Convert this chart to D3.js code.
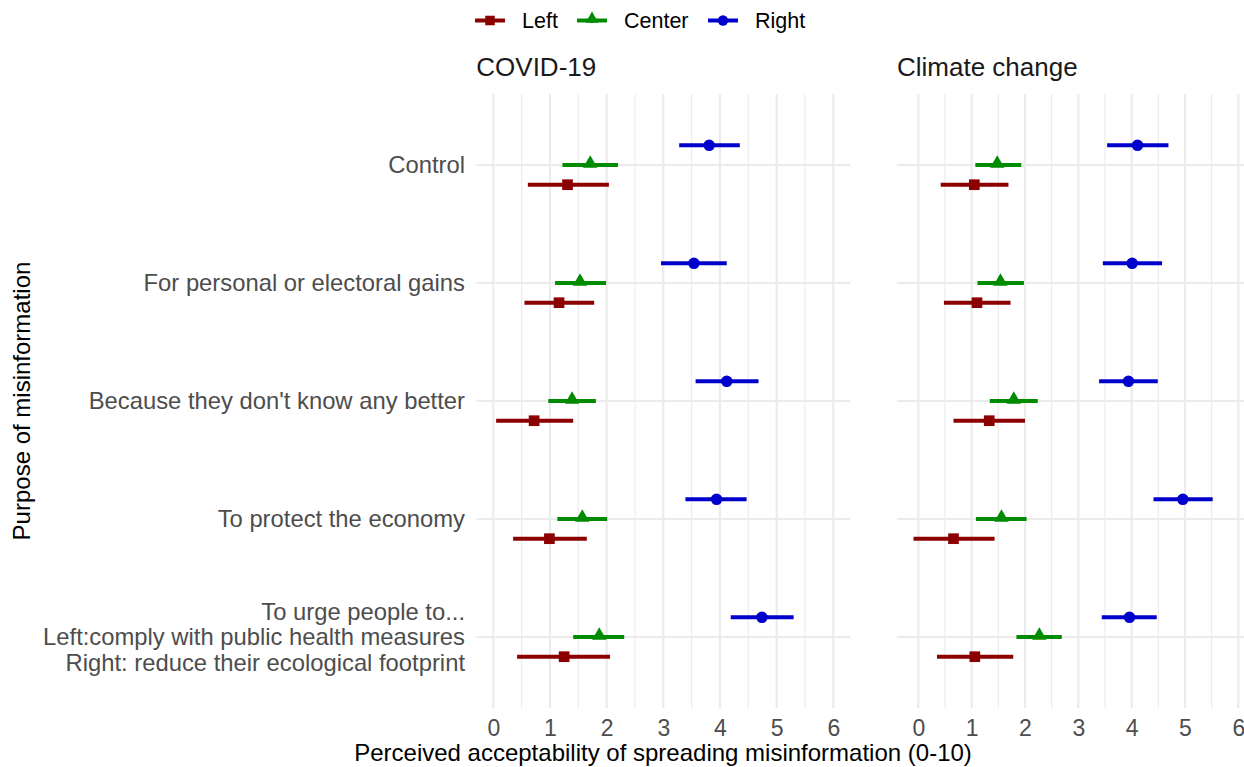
<!DOCTYPE html>
<html>
<head>
<meta charset="utf-8">
<script src="https://cdn.jsdelivr.net/npm/d3@7"></script>
<style>
  body { margin: 0; background: #fff; }
  svg { display: block; font-family: "Liberation Sans", Arial, sans-serif; }
</style>
</head>
<body>
<div id="chart"></div>
<script>
// categories
var purposes = [
  "Control",
  "For personal or electoral gains",
  "Because they don't know any better",
  "To protect the economy",
  "To urge people to...\nLeft:comply with public health measures\nRight: reduce their ecological footprint"
];
var panels = ["COVID-19", "Climate change"];
var groups = ["Left", "Center", "Right"];
var xTicks = [0, 1, 2, 3, 4, 5, 6];

// COVID-19 estimates (mean, lower, upper)
var covidLeftMean   = [1.31, 1.16, 0.72, 0.99, 1.25];
var covidLeftLo     = [0.61, 0.55, 0.05, 0.35, 0.42];
var covidLeftHi     = [2.04, 1.78, 1.41, 1.65, 2.06];
var covidCenterMean = [1.71, 1.53, 1.39, 1.57, 1.87];
var covidCenterLo   = [1.22, 1.09, 0.97, 1.13, 1.41];
var covidCenterHi   = [2.20, 1.99, 1.81, 2.01, 2.31];
var covidRightMean  = [3.81, 3.54, 4.12, 3.94, 4.74];
var covidRightLo    = [3.28, 2.96, 3.57, 3.39, 4.19];
var covidRightHi    = [4.35, 4.12, 4.68, 4.47, 5.30];

// Climate change estimates
var climateLeftMean   = [1.05, 1.10, 1.33, 0.66, 1.06];
var climateLeftLo     = [0.42, 0.48, 0.66, -0.09, 0.35];
var climateLeftHi     = [1.69, 1.73, 2.00, 1.43, 1.78];
var climateCenterMean = [1.48, 1.54, 1.79, 1.56, 2.27];
var climateCenterLo   = [1.07, 1.11, 1.34, 1.08, 1.84];
var climateCenterHi   = [1.93, 1.98, 2.24, 2.03, 2.69];
var climateRightMean  = [4.11, 4.01, 3.94, 4.96, 3.96];
var climateRightLo    = [3.54, 3.46, 3.39, 4.41, 3.44];
var climateRightHi    = [4.69, 4.57, 4.49, 5.52, 4.47];

var panelData = {
  "COVID-19": {
    Left:   { mean: covidLeftMean,   lo: covidLeftLo,   hi: covidLeftHi },
    Center: { mean: covidCenterMean, lo: covidCenterLo, hi: covidCenterHi },
    Right:  { mean: covidRightMean,  lo: covidRightLo,  hi: covidRightHi }
  },
  "Climate change": {
    Left:   { mean: climateLeftMean,   lo: climateLeftLo,   hi: climateLeftHi },
    Center: { mean: climateCenterMean, lo: climateCenterLo, hi: climateCenterHi },
    Right:  { mean: climateRightMean,  lo: climateRightLo,  hi: climateRightHi }
  }
};

var width = 1244, height = 767;
var color = { Left: "#8B0000", Center: "#008B00", Right: "#0000CD" };
var shape = { Left: d3.symbolSquare, Center: d3.symbolTriangle, Right: d3.symbolCircle };
var shapeSize = { Left: 114, Center: 90, Right: 105 };

var svg = d3.select("#chart").append("svg")
  .attr("width", width)
  .attr("height", height);

var panelTop = 94, panelBottom = 708;
var y = d3.scalePoint().domain(purposes).range([165, 637]);
var dodge = d3.scalePoint().domain(["Right", "Center", "Left"]).range([-19.7, 19.7]);

var xScales = {
  "COVID-19": d3.scaleLinear().domain([0, 6]).range([493.3, 833.3]),
  "Climate change": d3.scaleLinear().domain([0, 6]).range([918.3, 1238.3])
};
var panelBounds = {
  "COVID-19": [476.3, 850.3],
  "Climate change": [897, 1244]
};

panels.forEach(function (p) {
  var x = xScales[p];
  var b = panelBounds[p];
  var g = svg.append("g").attr("class", "panel");

  // minor + major vertical grid
  var minor = d3.range(-0.5, 7, 1).filter(function (v) { return x(v) >= b[0] && x(v) <= b[1]; });
  g.selectAll(".minor").data(minor).enter().append("line")
    .attr("x1", function (d) { return x(d); })
    .attr("x2", function (d) { return x(d); })
    .attr("y1", panelTop).attr("y2", panelBottom)
    .attr("stroke", "#EBEBEB").attr("stroke-width", 1.1);
  g.selectAll(".major").data(xTicks).enter().append("line")
    .attr("x1", function (d) { return x(d); })
    .attr("x2", function (d) { return x(d); })
    .attr("y1", panelTop).attr("y2", panelBottom)
    .attr("stroke", "#EBEBEB").attr("stroke-width", 2.2);
  g.selectAll(".hgrid").data(purposes).enter().append("line")
    .attr("x1", b[0]).attr("x2", b[1])
    .attr("y1", function (d) { return y(d); })
    .attr("y2", function (d) { return y(d); })
    .attr("stroke", "#EBEBEB").attr("stroke-width", 2.2);

  // x axis
  var axis = g.append("g")
    .attr("transform", "translate(0,720)")
    .call(d3.axisBottom(x).tickValues(xTicks).tickFormat(d3.format("d")).tickSize(0).tickPadding(0));
  axis.select(".domain").remove();
  axis.selectAll("text")
    .attr("dy", "0.71em")
    .style("font-size", "23px")
    .style("font-family", "'Liberation Sans', Arial, sans-serif")
    .attr("fill", "#4D4D4D");

  // strip title
  svg.append("text")
    .attr("x", b[0])
    .attr("y", 76)
    .style("font-size", "26px")
    .attr("fill", "#1A1A1A")
    .text(p);

  // error bars + points
  groups.forEach(function (grp) {
    var s = panelData[p][grp];
    var rows = purposes.map(function (c, i) {
      return { cat: c, mean: s.mean[i], lo: s.lo[i], hi: s.hi[i] };
    });
    var gg = g.append("g");
    gg.selectAll("line.err").data(rows).enter().append("line")
      .attr("class", "err")
      .attr("x1", function (d) { return x(d.lo); })
      .attr("x2", function (d) { return x(d.hi); })
      .attr("y1", function (d) { return y(d.cat) + dodge(grp); })
      .attr("y2", function (d) { return y(d.cat) + dodge(grp); })
      .attr("stroke", color[grp]).attr("stroke-width", 4);
    gg.selectAll("path.pt").data(rows).enter().append("path")
      .attr("class", "pt")
      .attr("d", d3.symbol().type(shape[grp]).size(shapeSize[grp]))
      .attr("transform", function (d) {
        return "translate(" + x(d.mean) + "," + (y(d.cat) + dodge(grp) + (grp === "Center" ? -1.5 : 0)) + ")";
      })
      .attr("fill", color[grp]);
  });
});

// y tick labels
var yl = svg.append("g").attr("class", "ylabels");
purposes.forEach(function (c) {
  var lines = c.split("\n");
  var lh = 25.5;
  var t = yl.append("text")
    .attr("text-anchor", "end")
    .attr("fill", "#4D4D4D")
    .style("font-size", "23.8px");
  lines.forEach(function (ln, i) {
    t.append("tspan")
      .attr("x", 465)
      .attr("y", y(c) + (i - (lines.length - 1) / 2) * lh)
      .attr("dy", "0.35em")
      .text(ln);
  });
});

// axis titles
svg.append("text")
  .attr("x", 663)
  .attr("y", 753)
  .attr("dy", "0.35em")
  .attr("text-anchor", "middle")
  .style("font-size", "24px")
  .attr("fill", "#000")
  .text("Perceived acceptability of spreading misinformation (0-10)");

svg.append("text")
  .attr("transform", "translate(22," + (panelTop + panelBottom) / 2 + ") rotate(-90)")
  .attr("dy", "0.35em")
  .attr("text-anchor", "middle")
  .style("font-size", "24px")
  .attr("fill", "#000")
  .text("Purpose of misinformation");

// legend
var legendX = { Left: 475, Center: 577, Right: 708 };
var lg = svg.append("g").attr("class", "legend");
groups.forEach(function (grp) {
  var lx = legendX[grp];
  lg.append("line")
    .attr("x1", lx).attr("x2", lx + 30)
    .attr("y1", 20.5).attr("y2", 20.5)
    .attr("stroke", color[grp]).attr("stroke-width", 4);
  lg.append("path")
    .attr("d", d3.symbol().type(shape[grp]).size(shapeSize[grp] * 0.8))
    .attr("transform", "translate(" + (lx + 15) + "," + (20.5 + (grp === "Center" ? -1.5 : 0)) + ")")
    .attr("fill", color[grp]);
  lg.append("text")
    .attr("x", lx + 47)
    .attr("y", 20.5)
    .attr("dy", "0.35em")
    .style("font-size", "21.5px")
    .attr("fill", "#000")
    .text(grp);
});
</script>
</body>
</html>
